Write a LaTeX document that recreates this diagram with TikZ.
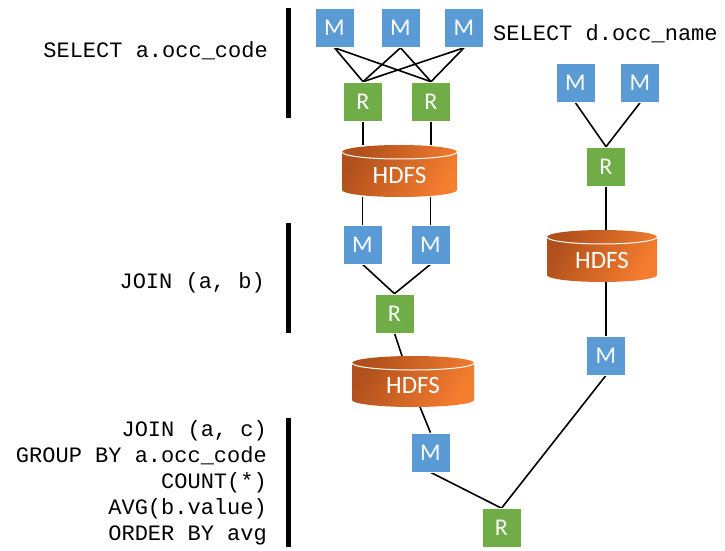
\documentclass[tikz,border=0pt]{standalone}
\usepackage{fontspec}
\setmonofont{Liberation Mono}
\newfontfamily\boxfont{Carlito}
\usetikzlibrary{backgrounds,calc}
\pgfdeclarelayer{canvas}
\pgfsetlayers{canvas,background,main}
\definecolor{mblue}{HTML}{5B9BD5}
\definecolor{rgreen}{HTML}{70AD47}
\definecolor{hdfsD}{HTML}{B0501C}
\definecolor{hdfsL}{HTML}{F57D2F}
\newcommand{\hdfscyl}[5]{% name, cx, top, bottom, half width
  \shade[left color=hdfsD, right color=hdfsL, shading angle=60]
    ({#2-#5},{#3-7}) -- ({#2-#5},{#4+7})
    arc[start angle=180,end angle=360,x radius=#5,y radius=7]
    -- ({#2+#5},{#3-7})
    arc[start angle=0,end angle=180,x radius=#5,y radius=7] -- cycle;
  \draw[white, line width=1pt] ({#2-#5},{#3-7}) arc[start angle=180,end angle=360,x radius=#5,y radius=7];
  \node[hdfsnode, minimum width={2*#5}, minimum height={#3-#4}] (#1) at (#2,{(#3+#4)/2}) {};
  \node[hdfstext] (#1t) at ([yshift=-4pt]#1.center) {HDFS};
}
\begin{document}
\begin{tikzpicture}[x=1pt,y=1pt,
  box/.style={minimum size=39pt, inner sep=0pt, draw=white, line width=0.6pt, text=white,
    font=\boxfont\fontsize{24}{24}\selectfont},
  mbox/.style={box, fill=mblue},
  rbox/.style={box, fill=rgreen},
  hdfsnode/.style={inner sep=0pt, outer sep=0pt, rectangle},
  hdfstext/.style={text=white, inner sep=0pt, font=\boxfont\fontsize{25}{25}\selectfont},
  sql/.style={font=\ttfamily\fontsize{22}{26}\selectfont, inner sep=0pt, text=black},
  conn/.style={line width=1.6pt, black},
  bar/.style={line width=5pt, black}]
\begin{pgfonlayer}{canvas}
\fill[white] (0,0) rectangle (725,550);
\end{pgfonlayer}
\useasboundingbox (0,0) rectangle (725,550);

% left bars
\draw[bar] (288,542) -- (288,432);
\draw[bar] (288,327) -- (288,217);
\draw[bar] (288,132) -- (288,3);

% SQL texts
\node[sql, anchor=east] (q1) at (268,499) {SELECT a.occ\_code};
\node[sql, anchor=east] (q2) at (265,267.5) {JOIN (a, b)};
\node[sql, anchor=west] (q4) at (493,516.5) {SELECT d.occ\_name};
\node[sql, anchor=east, align=right] (q3) at (267,67) {JOIN (a, c)\\GROUP BY a.occ\_code\\COUNT(*)\\AVG(b.value)\\ORDER BY avg};

% first job
\node[mbox] (m1) at (334.5,522) {M};
\node[mbox] (m2) at (400.5,522) {M};
\node[mbox] (m3) at (464,522) {M};
\node[rbox] (r1) at (363,448.5) {R};
\node[rbox] (r2) at (431,448.5) {R};
\hdfscyl{h1}{399.5}{405}{353}{57.5}

% second job
\node[mbox] (m4) at (362.5,305.5) {M};
\node[mbox] (m5) at (430.5,305.5) {M};
\node[rbox] (r3) at (394.5,236.5) {R};
\hdfscyl{h2}{413}{194}{143}{61}

% right job
\node[mbox] (m7) at (575.5,467) {M};
\node[mbox] (m8) at (640,467) {M};
\node[rbox] (r4) at (606,383.5) {R};
\hdfscyl{h3}{602}{320}{268}{55}
\node[mbox] (m9) at (606,194.5) {M};

% final job
\node[mbox] (m6) at (430.5,97.5) {M};
\node[rbox] (rf) at (501.5,22) {R};

\begin{pgfonlayer}{background}
  \foreach \m in {m1,m2,m3}{
    \draw[conn] (\m.south) -- (r1.north);
    \draw[conn] (\m.south) -- (r2.north);
  }
  \draw[conn] (r1.south) -- (r1 |- h1.north);
  \draw[conn] (r2.south) -- (r2 |- h1.north);
  \draw[conn] (m4 |- h1.south) -- (m4.north);
  \draw[conn] (m5 |- h1.south) -- (m5.north);
  \draw[conn] (m4.south) -- (r3.north);
  \draw[conn] (m5.south) -- (r3.north);
  \draw[conn] (r3.south) -- ([xshift=-11pt]h2.north);
  \draw[conn] ([xshift=7pt]h2.south) -- (m6.north);
  \draw[conn] (m7.south) -- (r4.north);
  \draw[conn] (m8.south) -- (r4.north);
  \draw[conn] (r4.south) -- (r4 |- h3.north);
  \draw[conn] (m9 |- h3.south) -- (m9.north);
  \draw[conn] (m6.south) -- (rf.north);
  \draw[conn] (m9.south) -- (rf.north);
\end{pgfonlayer}
\end{tikzpicture}
\end{document}
